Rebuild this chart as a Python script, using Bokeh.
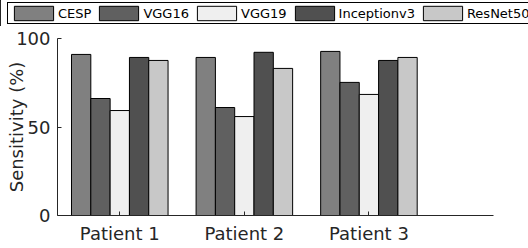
from bokeh.plotting import figure
from bokeh.models import ColumnDataSource, Legend, LegendItem, FixedTicker, Range1d
from bokeh.transform import dodge
from bokeh.embed import file_html
from bokeh.resources import INLINE

patients = ["Patient 1", "Patient 2", "Patient 3"]
positions = [1, 2, 3]
models = ["CESP", "VGG16", "VGG19", "Inceptionv3", "ResNet50"]
cesp = [91.0, 89.3, 92.7]
vgg16 = [66.1, 61.0, 75.2]
vgg19 = [59.3, 55.9, 68.4]
inception = [89.3, 92.2, 87.6]
resnet = [87.6, 83.1, 89.3]
colors = ["#808080", "#606060", "#efefef", "#505050", "#c8c8c8"]

src = ColumnDataSource(dict(x=positions, CESP=cesp, VGG16=vgg16, VGG19=vgg19,
                            Inceptionv3=inception, ResNet50=resnet))

# main plot
p = figure(width=528, height=222, output_backend="svg", toolbar_location=None,
           x_range=Range1d(0.5, 4), y_range=Range1d(0, 100),
           min_border_left=57, min_border_right=35, min_border_top=12, min_border_bottom=33,
           styles={"position": "absolute", "left": "0px", "top": "26px"})
p.outline_line_color = None
p.xgrid.visible = False
p.ygrid.visible = False

# legend strip (bars of the same data fall outside its range; only the legend shows)
pl = figure(width=528, height=26, output_backend="svg", toolbar_location=None,
            x_range=Range1d(100, 101), y_range=Range1d(0, 1),
            min_border=0,
            styles={"position": "absolute", "left": "0px", "top": "0px"})
pl.xaxis.visible = False
pl.yaxis.visible = False
pl.outline_line_color = None
pl.xgrid.visible = False
pl.ygrid.visible = False

bw = 0.155
items = []
for i, (m, c) in enumerate(zip(models, colors)):
    p.vbar(x=dodge("x", (i - 2) * bw), top=m, width=bw, source=src,
           fill_color=c, line_color="black", line_width=1)
    rl = pl.vbar(x=dodge("x", (i - 2) * bw), top=m, width=bw, source=src,
                 fill_color=c, line_color="black", line_width=1)
    items.append(LegendItem(label=m, renderers=[rl]))

TXT = "#262626"
for ax in (p.xaxis[0], p.yaxis[0]):
    ax.major_tick_in = 4
    ax.major_tick_out = 0
    ax.minor_tick_line_color = None
    ax.axis_line_color = TXT
    ax.major_tick_line_color = TXT
    ax.major_label_text_font = "DejaVu Sans"
    ax.major_label_text_font_size = "18px"
    ax.major_label_text_color = TXT
    ax.major_label_standoff = 7

p.xaxis.ticker = FixedTicker(ticks=positions)
p.xaxis.major_label_overrides = {pos: lab for pos, lab in zip(positions, patients)}
p.yaxis.ticker = FixedTicker(ticks=[0, 50, 100])
p.yaxis.axis_label = "Sensitivity (%)"
p.yaxis.axis_label_text_font = "DejaVu Sans"
p.yaxis.axis_label_text_font_size = "18px"
p.yaxis.axis_label_text_font_style = "normal"
p.yaxis.axis_label_text_color = TXT
p.yaxis.axis_label_standoff = -14

legend = Legend(items=items, orientation="horizontal", location=(7, 2),
                border_line_color="black", border_line_width=1, border_line_alpha=1,
                padding=1, spacing=3, margin=0, glyph_width=49, glyph_height=18,
                label_standoff=-2, label_width=0, label_text_font="DejaVu Sans",
                label_text_font_size="13px", label_text_color="black",
                label_height=14, background_fill_alpha=1)
pl.add_layout(legend, "center")

open("out.html", "w").write(file_html([pl, p], INLINE))
